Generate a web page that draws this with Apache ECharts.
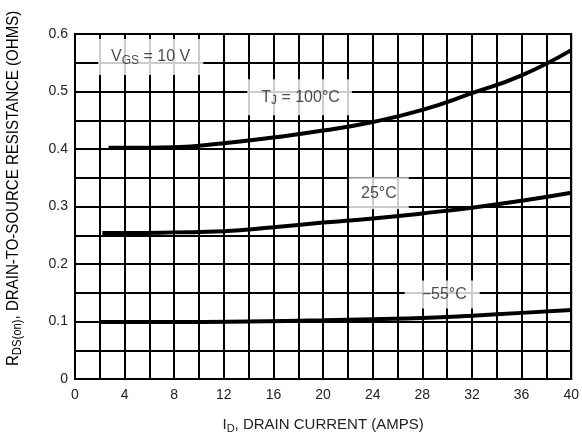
<!DOCTYPE html>
<html>
<head>
<meta charset="utf-8">
<script src="https://cdn.jsdelivr.net/npm/echarts@6/dist/echarts.min.js"></script>
<style>
  html, body { margin: 0; padding: 0; background: #fff; }
  #chart { width: 582px; height: 439px; }
</style>
</head>
<body>
<div id="chart"></div>
<script>
// drain current (A) and on-resistance (ohms)
var id100 = [2.7, 4, 8, 12, 16, 20, 24, 28, 32, 36, 40];
var r100  = [0.402, 0.402, 0.403, 0.410, 0.420, 0.432, 0.447, 0.468, 0.497, 0.528, 0.572];

var id25 = [2.2, 4, 8, 12, 16, 20, 24, 28, 32, 36, 40];
var r25  = [0.254, 0.254, 0.255, 0.257, 0.264, 0.272, 0.279, 0.288, 0.298, 0.310, 0.324];

var idm55 = [2, 8, 14, 20, 24, 28, 32, 36, 40];
var rm55  = [0.099, 0.099, 0.100, 0.102, 0.104, 0.106, 0.110, 0.115, 0.120];

// annotations: text and where they sit in data space (amps, ohms)
var annoText = ['{n|V}{s|GS}{n| = 10 V}', '{n|T}{s|J}{n| = 100°C}', '{n|25°C}', '{n|−55°C}'];
var annoAt = [[6.1, 0.56], [18.1, 0.49], [24.5, 0.323], [29.6, 0.147]];

var annoPad = [[9, 13, 9, 13], [9, 12, 9, 14], [7, 12, 7, 12], [5, 13, 5, 17]];

function pairs(xs, ys) {
    return xs.map(function(x, i) { return [x, ys[i]]; });
}

var myChart = echarts.init(document.getElementById('chart'));

var font = 'Liberation Sans, Arial, sans-serif';

var richNote = {
    n: { fontSize: 16, color: '#222', fontFamily: font, lineHeight: 18 },
    s: { fontSize: 12, color: '#222', fontFamily: font, lineHeight: 18, padding: [7, 0, 0, 0] }
};
var richX = {
    n: { fontSize: 15, color: '#222', fontFamily: font, lineHeight: 18 },
    s: { fontSize: 11, color: '#222', fontFamily: font, lineHeight: 18, padding: [7, 0, 0, 0] }
};
var richY = {
    n: { fontSize: 16, color: '#222', fontFamily: font, lineHeight: 18 },
    s: { fontSize: 12, color: '#222', fontFamily: font, lineHeight: 18, padding: [7, 0, 0, 0] }
};

var curveStyle = { color: '#000', width: 4 };

option = {
    animation: false,
    grid: {
        left: 75,
        top: 34,
        right: 7,
        bottom: 60,
        show: true,
        borderColor: '#000',
        borderWidth: 2
    },
    xAxis: {
        type: 'value',
        min: 0,
        max: 40,
        interval: 2,
        axisLine: { lineStyle: { color: '#000', width: 2 } },
        axisTick: { show: false },
        splitLine: { lineStyle: { color: '#000', width: 2 } },
        axisLabel: {
            margin: 9,
            fontSize: 14,
            color: '#222',
            fontFamily: font,
            formatter: function(v) { return v % 4 === 0 ? String(v) : ''; }
        },
        name: '{n|I}{s|D}{n|, DRAIN CURRENT (AMPS)}',
        nameLocation: 'middle',
        nameGap: 37,
        nameTextStyle: { rich: richX }
    },
    yAxis: {
        type: 'value',
        min: 0,
        max: 0.6,
        interval: 0.05,
        axisLine: { lineStyle: { color: '#000', width: 2 } },
        axisTick: { show: false },
        splitLine: { lineStyle: { color: '#000', width: 2 } },
        axisLabel: {
            margin: 7,
            fontSize: 14,
            color: '#222',
            fontFamily: font,
            formatter: function(v) {
                var t = Math.round(v * 100);
                if (t % 10 !== 0) return '';
                return t === 0 ? '0' : (t / 100).toFixed(1);
            }
        }
    },
    graphic: [{
        // condensed y title, reading bottom to top
        type: 'text',
        x: 5,
        y: 366,
        rotation: Math.PI / 2,
        scaleX: 0.94,
        style: {
            text: '{n|R}{s|DS(on)}{n|, DRAIN-TO-SOURCE RESISTANCE (OHMS)}',
            rich: richY
        }
    }],
    series: [{
        name: '100°C',
        type: 'line',
        smooth: true,
        symbol: 'none',
        lineStyle: curveStyle,
        data: pairs(id100, r100)
    }, {
        name: '25°C',
        type: 'line',
        smooth: true,
        symbol: 'none',
        lineStyle: curveStyle,
        data: pairs(id25, r25)
    }, {
        name: '-55°C',
        type: 'line',
        smooth: true,
        symbol: 'none',
        lineStyle: curveStyle,
        data: pairs(idm55, rm55)
    }, {
        name: 'notes',
        type: 'scatter',
        symbolSize: 0,
        z: 5,
        data: annoAt.map(function(p, i) {
            return {
                value: p,
                label: {
                    show: true,
                    position: 'inside',
                    formatter: annoText[i],
                    backgroundColor: '#fff',
                    padding: annoPad[i],
                    rich: richNote
                }
            };
        })
    }]
};

myChart.setOption(option);

window.addEventListener('resize', function() {
    myChart.resize();
});
</script>
</body>
</html>
